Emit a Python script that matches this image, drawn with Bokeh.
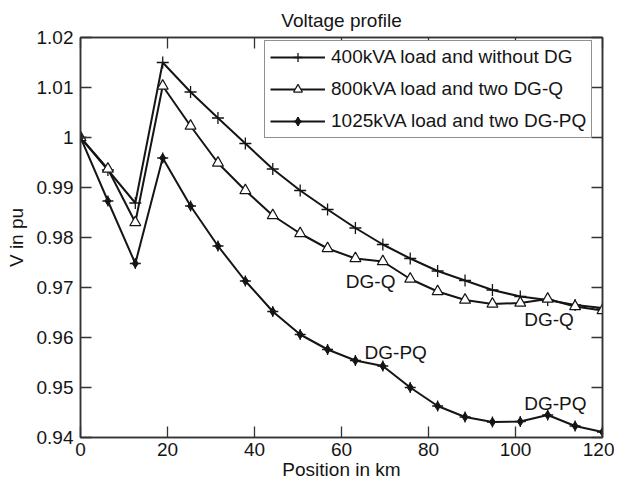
from bokeh.plotting import figure
from bokeh.models import Range1d, LinearAxis, FixedTicker, Legend, LegendItem, Title, CustomLabelingPolicy
from bokeh.core.properties import value
from bokeh.embed import file_html
from bokeh.resources import INLINE

FONT = "Liberation Sans"
FS = "19px"

position_km = [0, 6.3, 12.6, 18.9, 25.3, 31.6, 37.9, 44.2, 50.5, 56.8,
               63.2, 69.5, 75.8, 82.1, 88.4, 94.7, 101.1, 107.4, 113.7, 120]
v_400_no_dg = [1.0, 0.9935, 0.9869, 1.0150, 1.0091, 1.0039, 0.9988, 0.9937, 0.9894, 0.9856,
               0.9819, 0.9786, 0.9758, 0.9733, 0.9714, 0.9695, 0.9682, 0.9675, 0.9665, 0.9659]
v_800_dg_q = [1.0, 0.9937, 0.9830, 1.0103, 1.0023, 0.9949, 0.9894, 0.9844, 0.9808, 0.9778,
              0.9758, 0.9752, 0.9717, 0.9692, 0.9675, 0.9667, 0.9669, 0.9677, 0.9662, 0.9654]
v_1025_dg_pq = [1.0, 0.9873, 0.9748, 0.9959, 0.9863, 0.9783, 0.9713, 0.9652, 0.9606, 0.9576,
                0.9554, 0.9543, 0.9500, 0.9463, 0.9441, 0.9431, 0.9432, 0.9445, 0.9423, 0.9411]

series_names = ["400kVA load and without DG", "800kVA load and two DG-Q",
                "1025kVA load and two DG-PQ"]

x_ticks = [0, 20, 40, 60, 80, 100, 120]
y_ticks = [0.94, 0.95, 0.96, 0.97, 0.98, 0.99, 1.0, 1.01, 1.02]
y_tick_labels = ["0.94", "0.95", "0.96", "0.97", "0.98", "0.99", "1", "1.01", "1.02"]

ann_text = ["DG-Q", "DG-Q", "DG-PQ", "DG-PQ"]
ann_x = [61.0, 102.0, 65.3, 102.0]
ann_y = [0.9713, 0.9636, 0.9570, 0.9468]

INK = "#151515"

p = figure(width=614, height=486, output_backend="svg", toolbar_location=None,
           x_range=Range1d(0, 120), y_range=Range1d(0.94, 1.02),
           min_border_left=80, min_border_right=12, min_border_top=37, min_border_bottom=49)
p.title = Title(text="Voltage profile", align="center", text_font=FONT,
                text_font_size=FS, text_font_style="normal", text_color=INK,
                standoff=13)
p.xgrid.visible = False
p.ygrid.visible = False
p.outline_line_color = "#333333"
p.outline_line_width = 1.5
p.background_fill_color = "white"
p.border_fill_color = "white"

label_overrides = {t: l for t, l in zip(y_ticks, y_tick_labels)}

def style_axis(ax, ticks, show_labels):
    ax.ticker = FixedTicker(ticks=ticks)
    ax.minor_tick_line_color = None
    ax.major_tick_in = 11
    ax.major_tick_out = 0
    ax.major_tick_line_color = "#333333"
    ax.major_tick_line_width = 1.3
    ax.axis_line_color = "#333333"
    ax.axis_line_width = 1.5
    if show_labels:
        ax.major_label_text_font = FONT
        ax.major_label_text_font_size = FS
        ax.major_label_text_color = INK
        ax.major_label_standoff = 7
        ax.axis_label_text_font = FONT
        ax.axis_label_text_font_size = FS
        ax.axis_label_text_font_style = "normal"
        ax.axis_label_text_color = INK
    else:
        ax.major_label_text_font_size = "0px"
        ax.major_label_standoff = 0
        ax.major_label_policy = CustomLabelingPolicy(code="return []")

xa = p.xaxis[0]
style_axis(xa, x_ticks, True)
xa.major_label_standoff = 5
xa.axis_label = "Position in km"
xa.axis_label_standoff = 0
ya = p.yaxis[0]
style_axis(ya, y_ticks, True)
ya.major_label_overrides = label_overrides
ya.axis_label = "V in pu"
ya.axis_label_standoff = 7

top_ax = LinearAxis()
style_axis(top_ax, x_ticks, False)
p.add_layout(top_ax, "above")
right_ax = LinearAxis()
style_axis(right_ax, y_ticks, False)
p.add_layout(right_ax, "right")

# series 1: plus markers
l1 = p.line(position_km, v_400_no_dg, line_color=INK, line_width=2)
m1 = p.scatter(position_km, v_400_no_dg, marker="cross", size=12, line_color=INK,
               line_width=1.3)
# series 2: open triangles
l2 = p.line(position_km, v_800_dg_q, line_color=INK, line_width=2)
m2 = p.scatter(position_km, v_800_dg_q, marker="triangle", size=11, line_color=INK,
               fill_color="white", line_width=1.2)
# series 3: filled star-like markers
l3 = p.line(position_km, v_1025_dg_pq, line_color=INK, line_width=2)
m3a = p.scatter(position_km, v_1025_dg_pq, marker="diamond", size=9, line_color=INK,
                fill_color=INK, line_width=1)
m3b = p.scatter(position_km, v_1025_dg_pq, marker="cross", size=11, line_color=INK,
                line_width=1.3)

p.text(ann_x, ann_y, text=ann_text, text_font=value(FONT), text_font_size=FS,
       text_color=INK, text_align="left", text_baseline="middle")

legend = Legend(items=[
    LegendItem(label=series_names[0], renderers=[l1, m1]),
    LegendItem(label=series_names[1], renderers=[l2, m2]),
    LegendItem(label=series_names[2], renderers=[l3, m3a, m3b]),
], location=(184, 299))
legend.label_text_font = FONT
legend.label_text_font_size = FS
legend.label_text_color = INK
legend.border_line_color = "#222222"
legend.border_line_width = 1.2
legend.background_fill_color = "white"
legend.background_fill_alpha = 1
legend.padding = 5
legend.spacing = 10
legend.glyph_width = 55
legend.glyph_height = 22
legend.label_height = 22
legend.label_standoff = 6
legend.margin = 0
p.add_layout(legend, "center")

open("out.html", "w").write(file_html(p, INLINE))
